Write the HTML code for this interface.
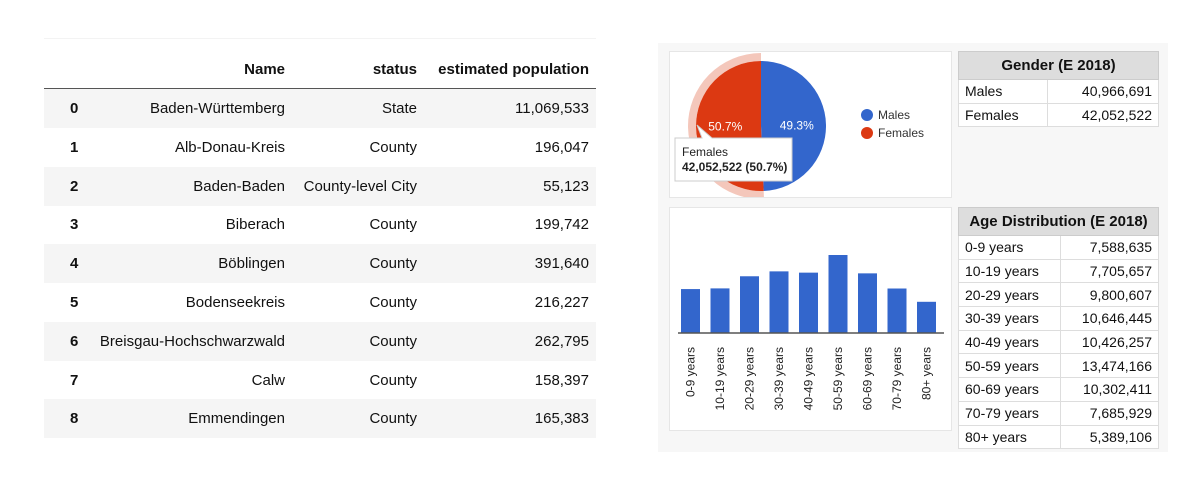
<!DOCTYPE html>
<html><head><meta charset="utf-8">
<style>
body{margin:0;width:1185px;height:502px;background:#fff;position:relative;overflow:hidden;font-family:"Liberation Sans",sans-serif;color:#111}
.abs{position:absolute}
#tbl{left:44px;top:38px;width:552px;border-top:1px solid #f3f3f3}
.row{position:absolute;left:44px;width:552px;height:39px;font-size:15px}
.row span{position:absolute;top:11px;white-space:nowrap}
.g{background:#f5f5f5}
.idx{left:26px;font-weight:bold}
.nm{right:311px}.st{right:179px}.pp{right:7px}
.panel{left:658px;top:43px;width:510px;height:409px;background:#f7f7f7}
.box{background:#fff;border:1px solid #e6e6e6}
.gt{font-family:"Liberation Sans",sans-serif;font-size:14px;border-collapse:collapse;background:#fff}
.gt td{border:1px solid #ddd;padding:0 6px;height:22.7px;line-height:16px}
.gt th{background:#ddd;border:1px solid #ccc;height:27px;padding:0;font-size:15px;line-height:16px}
.gt td.v{text-align:right}
</style></head><body>
<div id="tbl" class="abs"></div>
<div class="row" style="top:50px;height:38px;border-bottom:2px solid #555">
 <span class="nm" style="font-weight:bold">Name</span><span class="st" style="font-weight:bold">status</span><span class="pp" style="font-weight:bold">estimated population</span>
</div>
<div id="rows"></div>

<div class="abs panel"></div>
<div class="abs box" style="left:669px;top:51px;width:281px;height:145px">
<svg width="281" height="145" id="pie"></svg>
</div>
<table class="gt abs" style="left:958px;top:51px;width:201px">
<tr><th colspan="2">Gender (E 2018)</th></tr>
<tr><td style="width:76px">Males</td><td class="v">40,966,691</td></tr>
<tr><td>Females</td><td class="v">42,052,522</td></tr>
</table>
<div class="abs box" style="left:669px;top:207px;width:281px;height:222px">
<svg width="281" height="222" id="bar"></svg>
</div>
<table class="gt abs" style="left:958px;top:207px;width:201px">
<tr><th colspan="2">Age Distribution (E 2018)</th></tr>
<tr><td style="width:89px">0-9 years</td><td class="v">7,588,635</td></tr>
<tr><td>10-19 years</td><td class="v">7,705,657</td></tr>
<tr><td>20-29 years</td><td class="v">9,800,607</td></tr>
<tr><td>30-39 years</td><td class="v">10,646,445</td></tr>
<tr><td>40-49 years</td><td class="v">10,426,257</td></tr>
<tr><td>50-59 years</td><td class="v">13,474,166</td></tr>
<tr><td>60-69 years</td><td class="v">10,302,411</td></tr>
<tr><td>70-79 years</td><td class="v">7,685,929</td></tr>
<tr><td>80+ years</td><td class="v">5,389,106</td></tr>
</table>

<script>
const names=["Baden-Württemberg","Alb-Donau-Kreis","Baden-Baden","Biberach","Böblingen","Bodenseekreis","Breisgau-Hochschwarzwald","Calw","Emmendingen"];
const statuses=["State","County","County-level City","County","County","County","County","County","County"];
const pops=["11,069,533","196,047","55,123","199,742","391,640","216,227","262,795","158,397","165,383"];
const rowsEl=document.getElementById('rows');
names.forEach((n,i)=>{
 const r=document.createElement('div');
 r.className='row'+(i%2===0?' g':'');
 r.style.top=(89+i*38.8)+'px';
 
 
 r.innerHTML='<span class="idx">'+i+'</span><span class="nm">'+n+'</span><span class="st">'+statuses[i]+'</span><span class="pp">'+pops[i]+'</span>';
 rowsEl.appendChild(r);
});

const NS='http://www.w3.org/2000/svg';
function mk(p,t,a){const e=document.createElementNS(NS,t);for(const k in a)e.setAttribute(k,a[k]);p.appendChild(e);return e;}

const pieLabels=["Males","Females"];
const pieValues=[40966691,42052522];
const pieColors=["#3366cc","#dc3912"];
const pie=document.getElementById('pie');
const cx=91,cy=74,R=65;
const tot=pieValues.reduce((a,b)=>a+b,0);
let ang=0;
function pt(a,r){return [cx+r*Math.sin(a),cy-r*Math.cos(a)];}
pieValues.forEach((v,i)=>{
 const a0=ang,a1=ang+v/tot*2*Math.PI;ang=a1;
 const big=(a1-a0)>Math.PI?1:0;
 if(i===1){
  const [x0,y0]=pt(a0,R),[x1,y1]=pt(a1,R),[X0,Y0]=pt(a0,R+8),[X1,Y1]=pt(a1,R+8);
  const h=mk(pie,'path',{d:`M${x0},${y0} L${X0},${Y0} A${R+8},${R+8} 0 ${big} 1 ${X1},${Y1} L${x1},${y1} A${R},${R} 0 ${big} 0 ${x0},${y0}Z`,fill:'#f4c7bb'});
  
  
 }
 const [x0,y0]=pt(a0,R),[x1,y1]=pt(a1,R);
 const s=mk(pie,'path',{d:`M${cx},${cy} L${x0},${y0} A${R},${R} 0 ${big} 1 ${x1},${y1}Z`,fill:pieColors[i]});
 
 
 const [lx,ly]=pt((a0+a1)/2,R*0.55);
 const t=mk(pie,'text',{x:lx,y:ly+4,'text-anchor':'middle','font-size':12,fill:'#fff','font-family':'Liberation Sans, sans-serif'});
 t.textContent=(v/tot*100).toFixed(1)+'%';
 
 
 const lg=mk(pie,'circle',{cx:197,cy:63+i*18,r:6,fill:pieColors[i]});
 
 
 const lt=mk(pie,'text',{x:208,y:67+i*18,'font-size':12,fill:'#333','font-family':'Liberation Sans, sans-serif'});
 lt.textContent=pieLabels[i];
 
 
});
const tg=mk(pie,'g',{});


mk(tg,'path',{d:'M5,86 H32 L27,73 L42,86 H122 V129 H5Z',fill:'#fff',stroke:'#ccc'});
const t1=mk(tg,'text',{x:12,y:104,'font-size':12,fill:'#222','font-family':'Liberation Sans, sans-serif'});t1.textContent='Females';
const t2=mk(tg,'text',{x:12,y:119,'font-size':12,'font-weight':'bold',fill:'#222','font-family':'Liberation Sans, sans-serif'});t2.textContent='42,052,522 (50.7%)';

const ageCats=["0-9 years","10-19 years","20-29 years","30-39 years","40-49 years","50-59 years","60-69 years","70-79 years","80+ years"];
const ageVals=[7588635,7705657,9800607,10646445,10426257,13474166,10302411,7685929,5389106];
const bar=document.getElementById('bar');
const baseY=125,maxH=78,maxV=13474166,x0b=11,step=29.5,bw=19;
const yS=v=>baseY-v/maxV*maxH;
ageVals.forEach((v,i)=>{
 const x=x0b+i*step;
 const r=mk(bar,'rect',{x:x,y:yS(v),width:bw,height:baseY-yS(v),fill:'#3366cc'});
 
 
 const t=mk(bar,'text',{x:0,y:0,'font-size':12,fill:'#222','text-anchor':'end','font-family':'Liberation Sans, sans-serif',transform:`translate(${x+bw/2+4},${baseY+14}) rotate(-90)`});
 t.textContent=ageCats[i];
 
 
});
const ax=mk(bar,'line',{x1:8,x2:274,y1:baseY,y2:baseY,stroke:'#555','stroke-width':1.5});


</script>
</body></html>
